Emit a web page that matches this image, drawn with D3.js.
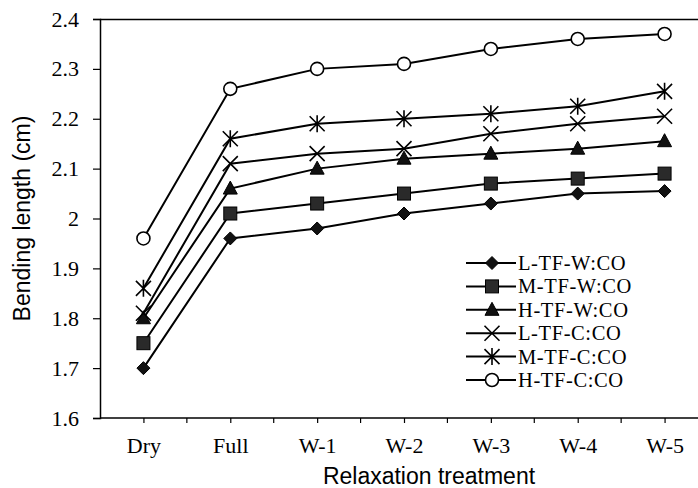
<!DOCTYPE html>
<html><head><meta charset="utf-8">
<script src="https://cdn.jsdelivr.net/npm/d3@7"></script>
<style>
body{margin:0;background:#fff;}
svg{display:block;}
</style></head>
<body>
<svg id="chart" width="698" height="488"></svg>
<script>
const categories = ["Dry","Full","W-1","W-2","W-3","W-4","W-5"];
const seriesNames = ["L-TF-W:CO","M-TF-W:CO","H-TF-W:CO","L-TF-C:CO","M-TF-C:CO","H-TF-C:CO"];
const markerTypes = ["diamond","square","triangle","cross","asterisk","circle"];
const L_TF_W = [1.70,1.96,1.98,2.01,2.03,2.05,2.055];
const M_TF_W = [1.75,2.01,2.03,2.05,2.07,2.08,2.09];
const H_TF_W = [1.80,2.06,2.10,2.12,2.13,2.14,2.155];
const L_TF_C = [1.81,2.11,2.13,2.14,2.17,2.19,2.205];
const M_TF_C = [1.86,2.16,2.19,2.20,2.21,2.225,2.255];
const H_TF_C = [1.96,2.26,2.30,2.31,2.34,2.36,2.37];
const seriesValues = [L_TF_W,M_TF_W,H_TF_W,L_TF_C,M_TF_C,H_TF_C];
const yTicks = [1.6,1.7,1.8,1.9,2.0,2.1,2.2,2.3,2.4];
const yTickLabels = ["1.6","1.7","1.8","1.9","2","2.1","2.2","2.3","2.4"];

(function(){
const svg = d3.select("#chart");
const mLeft = 100, mRight = 708, mTop = 19, mBottom = 418;
const x = d3.scalePoint().domain(categories).range([mLeft, mRight]).padding(0.5);
const y = d3.scaleLinear().domain([1.6, 2.4]).range([mBottom, mTop]);
const serif = "'Liberation Serif','Times New Roman',serif";
const sans = "'Liberation Sans',Arial,sans-serif";

// top frame line
svg.append("line").attr("x1", mLeft).attr("x2", 698).attr("y1", mTop + 0.5).attr("y2", mTop + 0.5)
  .attr("stroke", "#000").attr("stroke-width", 1.5);

// y axis
const yAxis = d3.axisLeft(y).tickValues(yTicks).tickSize(7).tickPadding(14)
  .tickFormat((d, i) => yTickLabels[i]);
const gy = svg.append("g").attr("transform", `translate(${mLeft},0)`).call(yAxis);
gy.select(".domain").attr("stroke-width", 1.5);
gy.selectAll(".tick line").attr("stroke-width", 1.2);
gy.selectAll("text").attr("font-family", serif).attr("font-size", 22).attr("fill", "#000");

// x axis (ticks at categories and between)
const xAxis = d3.axisBottom(x).tickSize(5).tickPadding(14);
const gx = svg.append("g").attr("transform", `translate(0,${mBottom})`).call(xAxis);
gx.select(".domain").attr("d", `M${mLeft},0H698`).attr("stroke-width", 1.5);
gx.selectAll(".tick line").attr("stroke-width", 1.2);
gx.selectAll("text").attr("font-family", serif).attr("font-size", 22).attr("fill", "#000");
const step = x.step();
categories.forEach(c => {
  gx.append("line").attr("x1", x(c) + step / 2).attr("x2", x(c) + step / 2)
    .attr("y1", 0).attr("y2", 5).attr("stroke", "#000").attr("stroke-width", 1.2);
});

// axis titles
svg.append("text").attr("x", 429).attr("y", 484).attr("text-anchor", "middle")
  .attr("font-family", sans).attr("font-size", 23).text("Relaxation treatment");
svg.append("text").attr("transform", `translate(30,${(mTop + mBottom) / 2}) rotate(-90)`)
  .attr("text-anchor", "middle").attr("font-family", sans).attr("font-size", 23)
  .text("Bending length (cm)");

function drawMarker(g, type, cx, cy) {
  const s = 6.5;
  if (type === "diamond") {
    g.append("path").attr("d", `M${cx},${cy - s}L${cx + s},${cy}L${cx},${cy + s}L${cx - s},${cy}Z`)
      .attr("fill", "#111").attr("stroke", "#000").attr("stroke-width", 1);
  } else if (type === "square") {
    g.append("rect").attr("x", cx - s).attr("y", cy - s).attr("width", 2 * s).attr("height", 2 * s)
      .attr("fill", "#2a2a2a").attr("stroke", "#000").attr("stroke-width", 1);
  } else if (type === "triangle") {
    g.append("path").attr("d", `M${cx},${cy - s - 1}L${cx + s + 0.5},${cy + s - 1}L${cx - s - 0.5},${cy + s - 1}Z`)
      .attr("fill", "#111").attr("stroke", "#000").attr("stroke-width", 1);
  } else if (type === "cross") {
    g.append("path").attr("d", `M${cx - s - 1},${cy - s - 1}L${cx + s + 1},${cy + s + 1}M${cx - s - 1},${cy + s + 1}L${cx + s + 1},${cy - s - 1}`)
      .attr("stroke", "#000").attr("stroke-width", 1.6).attr("fill", "none");
  } else if (type === "asterisk") {
    const r = s + 1;
    g.append("path").attr("d", `M${cx - r},${cy - r}L${cx + r},${cy + r}M${cx - r},${cy + r}L${cx + r},${cy - r}M${cx},${cy - r - 1}L${cx},${cy + r + 1}`)
      .attr("stroke", "#000").attr("stroke-width", 1.6).attr("fill", "none");
  } else if (type === "circle") {
    g.append("circle").attr("cx", cx).attr("cy", cy).attr("r", s)
      .attr("fill", "#fff").attr("stroke", "#000").attr("stroke-width", 1.6);
  }
}

const line = d3.line().x((d, i) => x(categories[i])).y(d => y(d));
const plot = svg.append("g");
seriesValues.forEach((vals) => {
  plot.append("path").datum(vals).attr("d", line).attr("fill", "none")
    .attr("stroke", "#000").attr("stroke-width", 2);
});
seriesValues.forEach((vals, si) => {
  const g = plot.append("g");
  vals.forEach((v, i) => drawMarker(g, markerTypes[si], x(categories[i]), y(v)));
});

// legend
const lg = svg.append("g");
seriesNames.forEach((name, i) => {
  const ly = 263 + i * 23.4;
  lg.append("line").attr("x1", 466).attr("x2", 516).attr("y1", ly).attr("y2", ly)
    .attr("stroke", "#000").attr("stroke-width", 2);
  drawMarker(lg, markerTypes[i], 492, ly);
  lg.append("text").attr("x", 518).attr("y", ly + 7).attr("font-family", serif)
    .attr("font-size", 20.5).attr("letter-spacing", 0.6).text(name);
});
})();
</script>
</body></html>
